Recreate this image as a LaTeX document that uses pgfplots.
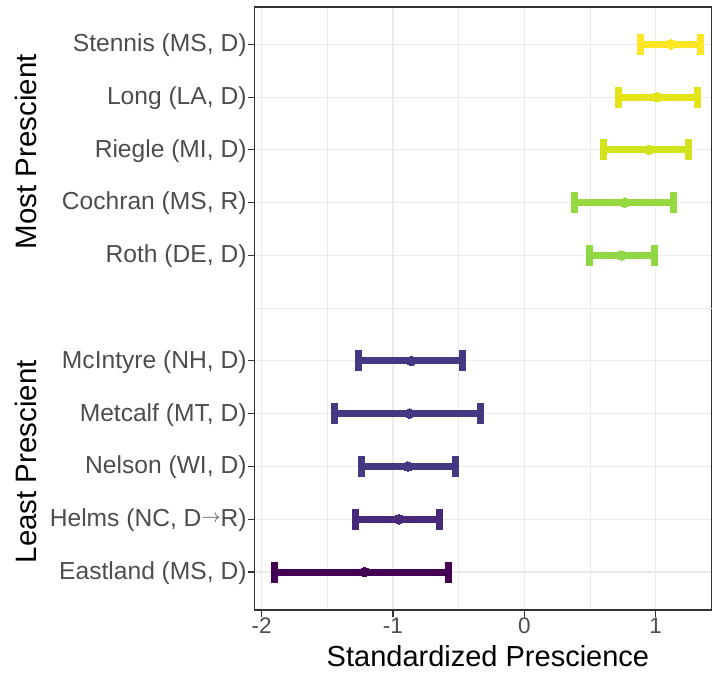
\documentclass[border=0pt]{standalone}
\usepackage{graphicx}
\usepackage{pgfplots}
\pgfplotsset{compat=1.18}
\usepackage{fontspec}
\setmainfont{Liberation Sans}
\definecolor{cStennis}{HTML}{FDE725}
\definecolor{cLong}{HTML}{E4E419}
\definecolor{cRiegle}{HTML}{D2E21B}
\definecolor{cCochran}{HTML}{95D840}
\definecolor{cRoth}{HTML}{90D743}
\definecolor{cMcIntyre}{HTML}{453781}
\definecolor{cMetcalf}{HTML}{453781}
\definecolor{cNelson}{HTML}{453781}
\definecolor{cHelms}{HTML}{482878}
\definecolor{cEastland}{HTML}{440154}
\definecolor{gridc}{HTML}{EBEBEB}
\definecolor{borderc}{HTML}{333333}
\definecolor{ticklab}{HTML}{4D4D4D}
\newcommand{\DtoR}{\raisebox{4pt}{\resizebox{19pt}{!}{$\rightarrow$}}}
\pgfplotsset{ebar/.style={color=#1, mark=*, mark size=4.8pt,
  mark options={fill=#1, draw=#1, line width=0pt},
  error bars/.cd, x dir=both, x explicit, error mark=|,
  error bar style={line width=7pt, color=#1},
  error mark options={color=#1, line width=7pt, mark size=10.5pt}}}
\begin{document}
\begin{tikzpicture}
\useasboundingbox (0,0) rectangle (712pt,673pt);
\begin{axis}[
  at={(254.7pt,63pt)}, anchor=south west,
  scale only axis, width=457.3pt, height=603pt,
  xmin=-2.0533, xmax=1.4296, ymin=-0.72, ymax=10.707,
  axis line style={draw=borderc, line width=1.1pt},
  xtick={-2,-1,0,1}, xticklabels={-2,-1,0,1},
  minor xtick={-1.5,-0.5,0.5},
  ytick={0,1,2,3,4,6,7,8,9,10},
  yticklabels={{Eastland (MS, D)},{Helms (NC, D\DtoR R)},{Nelson (WI, D)},{Metcalf (MT, D)},{McIntyre (NH, D)},
    {Roth (DE, D)},{Cochran (MS, R)},{Riegle (MI, D)},{Long (LA, D)},{Stennis (MS, D)}},
  extra y ticks={5}, extra y tick labels={},
  extra y tick style={major tick length=0pt},
  grid=both,
  major grid style={draw=gridc, line width=1.1pt},
  minor grid style={draw=gridc, line width=0.55pt},
  tick align=outside, major tick length=7pt, minor tick length=0pt,
  tick style={draw=borderc, line width=1.1pt},
  xtick pos=left, ytick pos=left,
  yticklabel style={font=\fontsize{24.6}{24.6}\selectfont, text=ticklab, anchor=east, inner sep=1pt, yshift=-1pt},
  xticklabel style={font=\fontsize{22.5}{22.5}\selectfont, text=ticklab, anchor=north, inner sep=1pt},
  xlabel={Standardized Prescience},
  xlabel style={at={(axis description cs:0.5,0)}, anchor=base, yshift=-56pt, xshift=4.6pt, font=\fontsize{29}{29}\selectfont, inner sep=0pt},
]
\addplot[ebar=cStennis] coordinates {(1.117,10) += (0.223,0) -= (0.234,0)};
\addplot[ebar=cLong] coordinates {(1.010,9) += (0.312,0) -= (0.292,0)};
\addplot[ebar=cRiegle] coordinates {(0.952,8) += (0.302,0) -= (0.351,0)};
\addplot[ebar=cCochran] coordinates {(0.766,7) += (0.369,0) -= (0.383,0)};
\addplot[ebar=cRoth] coordinates {(0.741,6) += (0.251,0) -= (0.244,0)};
\addplot[ebar=cMcIntyre] coordinates {(-0.861,4) += (0.389,0) -= (0.399,0)};
\addplot[ebar=cMetcalf] coordinates {(-0.874,3) += (0.541,0) -= (0.571,0)};
\addplot[ebar=cNelson] coordinates {(-0.886,2) += (0.360,0) -= (0.353,0)};
\addplot[ebar=cHelms] coordinates {(-0.955,1) += (0.312,0) -= (0.332,0)};
\addplot[ebar=cEastland] coordinates {(-1.216,0) += (0.642,0) -= (0.683,0)};
\end{axis}
\node[rotate=90, inner sep=0pt, font=\fontsize{29.5}{29.5}\selectfont] at (26pt,521.3pt) {Most Prescient};
\node[rotate=90, inner sep=0pt, font=\fontsize{29.5}{29.5}\selectfont] at (26pt,211.3pt) {Least Prescient};
\end{tikzpicture}
\end{document}
